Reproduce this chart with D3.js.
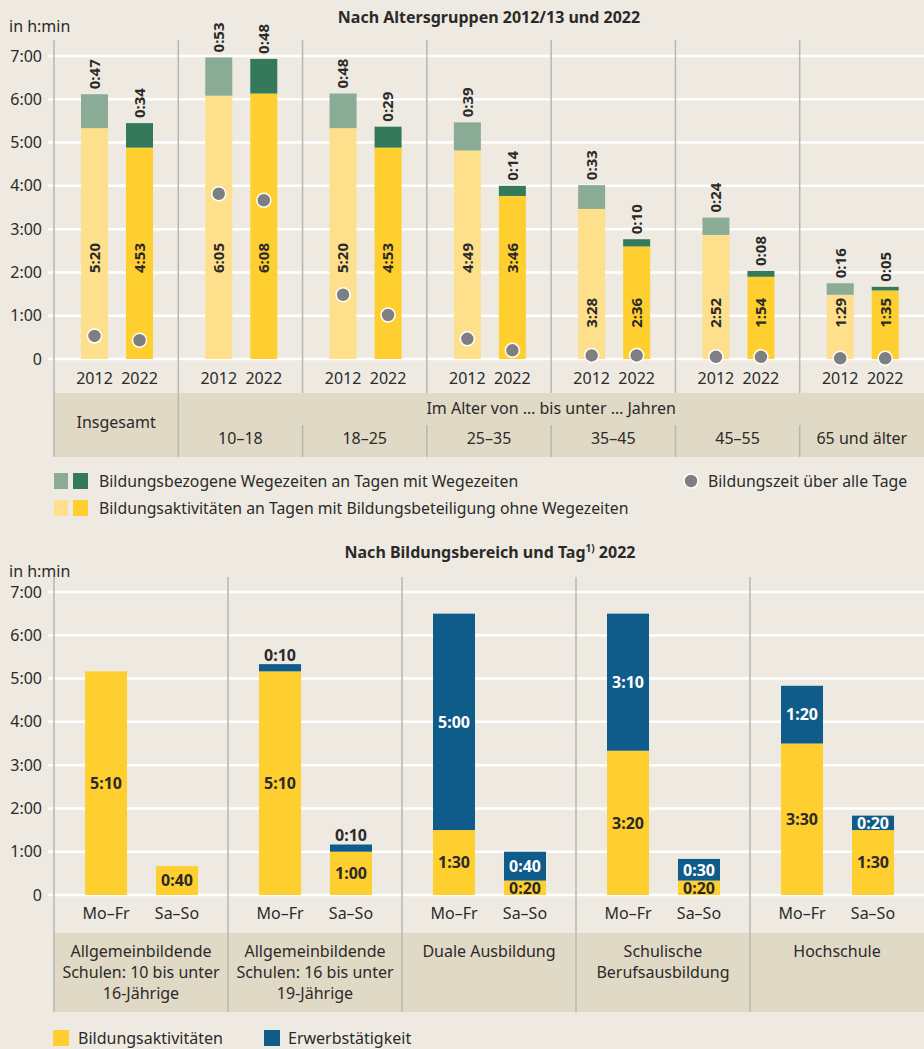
<!DOCTYPE html>
<html lang="de">
<head>
<meta charset="UTF-8">
<title>Bildungszeit</title>
<script src="https://cdn.jsdelivr.net/npm/d3@7"></script>
<style>
  body { margin: 0; background: #eeeae2; }
  svg { display: block; font-family: "Noto Sans", "Open Sans", sans-serif; }
</style>
</head>
<body>
<svg id="chart" width="924" height="1049"></svg>
<script>
// ---- data: top chart (minutes) ----
const ageGroups = ["Insgesamt", "10–18", "18–25", "25–35", "35–45", "45–55", "65 und älter"];
const years = ["2012", "2022"];
const activity2012 = [320, 365, 320, 289, 208, 172, 89];
const travel2012   = [47, 53, 48, 39, 33, 24, 16];
const activity2022 = [293, 368, 293, 226, 156, 114, 95];
const travel2022   = [34, 48, 29, 14, 10, 8, 5];
const allDays2012  = [32, 229, 89, 28, 5, 3, 1];
const allDays2022  = [26, 220, 61, 12, 5, 3, 1];

// ---- data: bottom chart (minutes) ----
const areas = [
  ["Allgemeinbildende", "Schulen: 10 bis unter", "16-Jährige"],
  ["Allgemeinbildende", "Schulen: 16 bis unter", "19-Jährige"],
  ["Duale Ausbildung"],
  ["Schulische", "Berufsausbildung"],
  ["Hochschule"]
];
const days = ["Mo–Fr", "Sa–So"];
const eduMoFr  = [310, 310, 90, 200, 210];
const workMoFr = [0, 10, 300, 190, 80];
const eduSaSo  = [40, 60, 20, 20, 90];
const workSaSo = [0, 10, 40, 30, 20];

const yTicks = [0, 60, 120, 180, 240, 300, 360, 420];

const C = {
  bg: "#eeeae2", band: "#e0d9c6", sep: "#b9b6b0", text: "#2b2a29",
  lightGreen: "#8aab96", darkGreen: "#347a5a",
  lightYellow: "#fedf8b", yellow: "#fecf2f",
  blue: "#0f5c8a", dot: "#7f7f83"
};

function hm(m) {
  if (m === 0) return "0";
  return Math.floor(m / 60) + ":" + String(m % 60).padStart(2, "0");
}

const svg = d3.select("#chart");
svg.append("rect").attr("width", 924).attr("height", 1049).attr("fill", C.bg);

// ================= TOP CHART =================
const topG = svg.append("g");
const y1 = d3.scaleLinear().domain([0, 420]).range([359, 56]);
const x1 = d3.scaleBand().domain(ageGroups).range([54, 924]);
const xi1 = d3.scaleBand().domain(years).range([27, 99]).paddingInner(0.4);

topG.append("text").attr("x", 489).attr("y", 23).attr("text-anchor", "middle")
  .attr("font-weight", 700).attr("font-size", 16).attr("fill", C.text)
  .text("Nach Altersgruppen 2012/13 und 2022");
topG.append("text").attr("x", 9).attr("y", 32).attr("font-size", 16).attr("fill", C.text).text("in h:min");

// band at bottom
topG.append("rect").attr("x", 54).attr("y", 393).attr("width", 870).attr("height", 64).attr("fill", C.band);

// grid
topG.append("g").selectAll("line").data(yTicks).join("line")
  .attr("x1", 48).attr("x2", 924).attr("y1", d => y1(d)).attr("y2", d => y1(d))
  .attr("stroke", "#fff").attr("stroke-width", 2.5);

// y axis labels
const ax1 = topG.append("g").attr("transform", "translate(42,0)")
  .call(d3.axisLeft(y1).tickValues(yTicks).tickFormat(hm).tickSize(0).tickPadding(0));
ax1.select(".domain").remove();
ax1.selectAll("text").attr("font-size", 16).attr("fill", C.text).attr("font-family", "Noto Sans");

// separators
ageGroups.forEach((g, i) => {
  const x = x1(g);
  if (i <= 1) {
    topG.append("line").attr("x1", x).attr("x2", x).attr("y1", 40).attr("y2", 457)
      .attr("stroke", C.sep).attr("stroke-width", 1.5);
  } else {
    topG.append("line").attr("x1", x).attr("x2", x).attr("y1", 40).attr("y2", 393)
      .attr("stroke", C.sep).attr("stroke-width", 1.5);
    topG.append("line").attr("x1", x).attr("x2", x).attr("y1", 425).attr("y2", 457)
      .attr("stroke", C.sep).attr("stroke-width", 1.5);
  }
});

const topRows = [];
ageGroups.forEach((g, i) => {
  topRows.push({ g, year: "2012", act: activity2012[i], trv: travel2012[i], dot: allDays2012[i], c1: C.lightYellow, c2: C.lightGreen });
  topRows.push({ g, year: "2022", act: activity2022[i], trv: travel2022[i], dot: allDays2022[i], c1: C.yellow, c2: C.darkGreen });
});
const bx1 = d => x1(d.g) + xi1(d.year);
const cx1 = d => bx1(d) + xi1.bandwidth() / 2;

topG.append("g").selectAll("rect").data(topRows).join("rect")
  .attr("x", bx1).attr("width", xi1.bandwidth())
  .attr("y", d => y1(d.act)).attr("height", d => y1(0) - y1(d.act)).attr("fill", d => d.c1);
topG.append("g").selectAll("rect").data(topRows).join("rect")
  .attr("x", bx1).attr("width", xi1.bandwidth())
  .attr("y", d => y1(d.act + d.trv)).attr("height", d => y1(d.act) - y1(d.act + d.trv)).attr("fill", d => d.c2);

// inner labels (rotated)
topG.append("g").selectAll("text").data(topRows).join("text")
  .attr("transform", d => `translate(${cx1(d)},${d.act >= 220 ? y1(140) : y1(64)}) rotate(-90)`)
  .attr("text-anchor", "middle").attr("dy", "0.36em")
  .attr("font-weight", 700).attr("font-size", 15).attr("fill", C.text)
  .text(d => hm(d.act));
// top labels
topG.append("g").selectAll("text").data(topRows).join("text")
  .attr("transform", d => `translate(${cx1(d)},${y1(d.act + d.trv) - 5}) rotate(-90)`)
  .attr("text-anchor", "start").attr("dy", "0.36em")
  .attr("font-weight", 700).attr("font-size", 15).attr("fill", C.text)
  .text(d => hm(d.trv));
// dots
topG.append("g").selectAll("circle").data(topRows).join("circle")
  .attr("cx", cx1).attr("cy", d => y1(d.dot)).attr("r", 7)
  .attr("fill", C.dot).attr("stroke", "#fff").attr("stroke-width", 1.5);

// year labels
topG.append("g").selectAll("text").data(topRows).join("text")
  .attr("x", cx1).attr("y", 384).attr("text-anchor", "middle")
  .attr("font-size", 16).attr("fill", C.text).text(d => d.year);

// band labels
topG.append("text").attr("x", x1("Insgesamt") + x1.bandwidth() / 2).attr("y", 428)
  .attr("text-anchor", "middle").attr("font-size", 16).attr("fill", C.text).text("Insgesamt");
topG.append("text").attr("x", (x1("10–18") + 924) / 2).attr("y", 414)
  .attr("text-anchor", "middle").attr("font-size", 16).attr("fill", C.text)
  .text("Im Alter von … bis unter … Jahren");
topG.append("g").selectAll("text").data(ageGroups.slice(1)).join("text")
  .attr("x", d => x1(d) + x1.bandwidth() / 2).attr("y", 444)
  .attr("text-anchor", "middle").attr("font-size", 16).attr("fill", C.text).text(d => d);

// legend
const lg1 = topG.append("g");
[[C.lightGreen, C.darkGreen, 481, "Bildungsbezogene Wegezeiten an Tagen mit Wegezeiten"],
 [C.lightYellow, C.yellow, 508, "Bildungsaktivitäten an Tagen mit Bildungsbeteiligung ohne Wegezeiten"]]
  .forEach(([a, b, y, t]) => {
    lg1.append("rect").attr("x", 54).attr("y", y - 8).attr("width", 14).attr("height", 16).attr("fill", a);
    lg1.append("rect").attr("x", 73).attr("y", y - 8).attr("width", 15).attr("height", 16).attr("fill", b);
    lg1.append("text").attr("x", 99).attr("y", y).attr("dy", "0.35em")
      .attr("font-size", 15.8).attr("fill", C.text).text(t);
  });
lg1.append("circle").attr("cx", 691).attr("cy", 481).attr("r", 7)
  .attr("fill", C.dot).attr("stroke", "#fff").attr("stroke-width", 1.5);
lg1.append("text").attr("x", 708).attr("y", 481).attr("dy", "0.35em")
  .attr("font-size", 15.8).attr("fill", C.text).text("Bildungszeit über alle Tage");

// ================= BOTTOM CHART =================
const bot = svg.append("g");
const y2 = d3.scaleLinear().domain([0, 420]).range([895, 592]);
const areaKeys = areas.map(a => a.join(" "));
const x2 = d3.scaleBand().domain(areaKeys).range([54, 924]);
const xi2 = d3.scaleBand().domain(days).range([31, 144]).paddingInner(0.408);

const t2 = bot.append("text").attr("x", 490).attr("y", 558).attr("text-anchor", "middle")
  .attr("font-weight", 700).attr("font-size", 16).attr("fill", C.text);
t2.append("tspan").text("Nach Bildungsbereich und Tag");
t2.append("tspan").attr("font-size", 10).attr("dy", -6).text("1)");
t2.append("tspan").attr("dy", 6).text(" 2022");
bot.append("text").attr("x", 9).attr("y", 577).attr("font-size", 16).attr("fill", C.text).text("in h:min");

bot.append("rect").attr("x", 54).attr("y", 933).attr("width", 870).attr("height", 79).attr("fill", C.band);

bot.append("g").selectAll("line").data(yTicks).join("line")
  .attr("x1", 48).attr("x2", 924).attr("y1", d => y2(d)).attr("y2", d => y2(d))
  .attr("stroke", "#fff").attr("stroke-width", 2.5);

const ax2 = bot.append("g").attr("transform", "translate(42,0)")
  .call(d3.axisLeft(y2).tickValues(yTicks).tickFormat(hm).tickSize(0).tickPadding(0));
ax2.select(".domain").remove();
ax2.selectAll("text").attr("font-size", 16).attr("fill", C.text).attr("font-family", "Noto Sans");

areaKeys.forEach(k => {
  bot.append("line").attr("x1", x2(k)).attr("x2", x2(k)).attr("y1", 577).attr("y2", 1012)
    .attr("stroke", C.sep).attr("stroke-width", 1.5);
});

const botRows = [];
areaKeys.forEach((k, i) => {
  botRows.push({ k, day: "Mo–Fr", edu: eduMoFr[i], work: workMoFr[i] });
  botRows.push({ k, day: "Sa–So", edu: eduSaSo[i], work: workSaSo[i] });
});
const bx2 = d => x2(d.k) + xi2(d.day);
const cx2 = d => bx2(d) + xi2.bandwidth() / 2;

bot.append("g").selectAll("rect").data(botRows).join("rect")
  .attr("x", bx2).attr("width", xi2.bandwidth())
  .attr("y", d => y2(d.edu)).attr("height", d => y2(0) - y2(d.edu)).attr("fill", C.yellow);
bot.append("g").selectAll("rect").data(botRows.filter(d => d.work > 0)).join("rect")
  .attr("x", bx2).attr("width", xi2.bandwidth())
  .attr("y", d => y2(d.edu + d.work)).attr("height", d => y2(d.edu) - y2(d.edu + d.work)).attr("fill", C.blue);

bot.append("g").selectAll("text").data(botRows).join("text")
  .attr("x", cx2).attr("y", d => y2(d.edu / 2)).attr("dy", "0.36em")
  .attr("text-anchor", "middle").attr("font-weight", 700).attr("font-size", 16).attr("fill", C.text)
  .text(d => hm(d.edu));
bot.append("g").selectAll("text").data(botRows.filter(d => d.work > 0)).join("text")
  .attr("x", cx2)
  .attr("y", d => d.work >= 20 ? y2(d.edu + d.work / 2) : y2(d.edu + d.work) - 9)
  .attr("dy", "0.36em")
  .attr("text-anchor", "middle").attr("font-weight", 700).attr("font-size", 16)
  .attr("fill", d => d.work >= 20 ? "#fff" : C.text)
  .text(d => hm(d.work));

bot.append("g").selectAll("text").data(botRows).join("text")
  .attr("x", cx2).attr("y", 919).attr("text-anchor", "middle")
  .attr("font-size", 16).attr("fill", C.text).text(d => d.day);

areas.forEach((lines, i) => {
  const t = bot.append("text").attr("x", x2(areaKeys[i]) + x2.bandwidth() / 2).attr("y", 957)
    .attr("text-anchor", "middle").attr("font-size", 16).attr("fill", C.text);
  lines.forEach((l, j) => t.append("tspan").attr("x", x2(areaKeys[i]) + x2.bandwidth() / 2)
    .attr("dy", j === 0 ? 0 : 21).text(l));
});

const lg2 = bot.append("g");
lg2.append("rect").attr("x", 53).attr("y", 1030).attr("width", 16).attr("height", 16).attr("fill", C.yellow);
lg2.append("text").attr("x", 78).attr("y", 1038).attr("dy", "0.35em").attr("font-size", 16)
  .attr("fill", C.text).text("Bildungsaktivitäten");
lg2.append("rect").attr("x", 264).attr("y", 1030).attr("width", 16).attr("height", 16).attr("fill", C.blue);
lg2.append("text").attr("x", 288).attr("y", 1038).attr("dy", "0.35em").attr("font-size", 16)
  .attr("fill", C.text).text("Erwerbstätigkeit");
</script>
</body>
</html>
